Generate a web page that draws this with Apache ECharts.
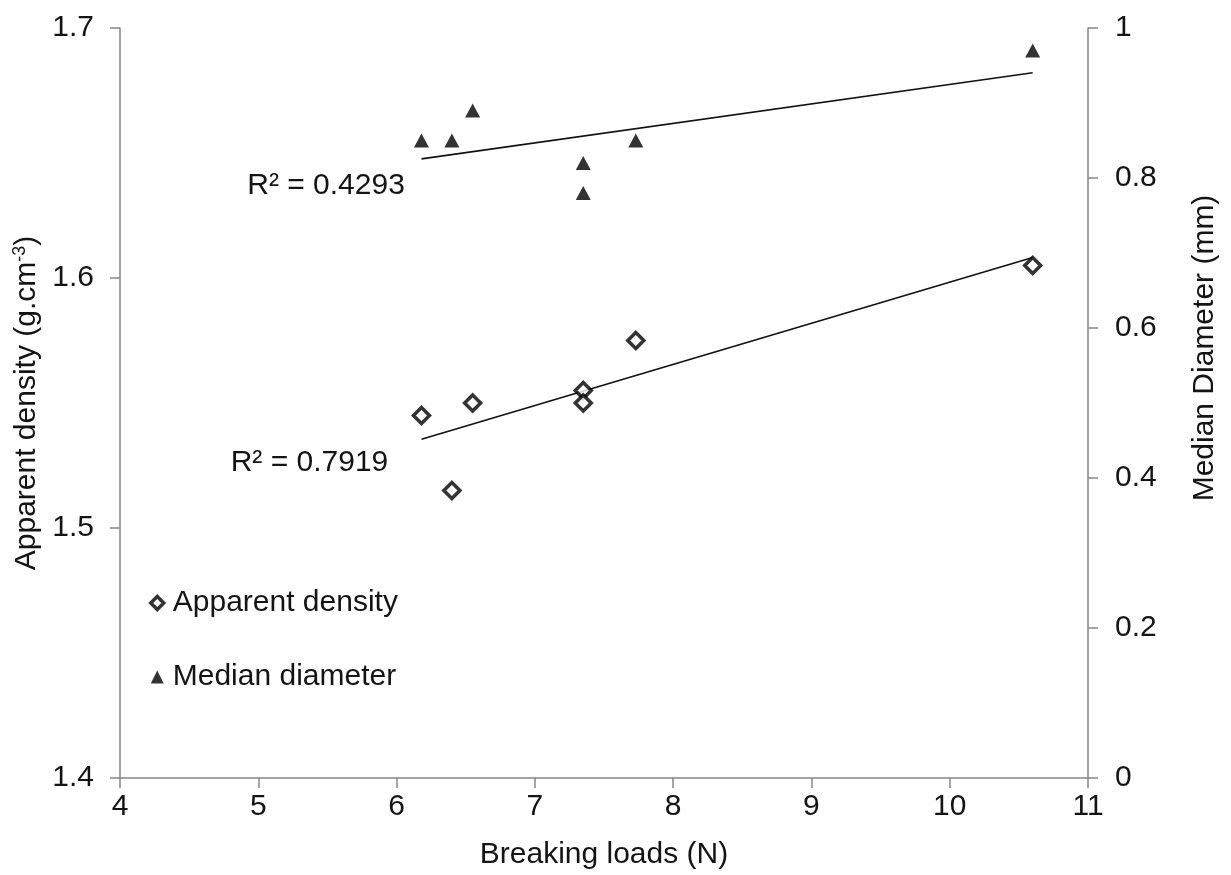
<!DOCTYPE html>
<html lang="en">
<head>
    <meta charset="UTF-8">
    <title>Breaking loads</title>
    <script src="https://cdn.jsdelivr.net/npm/echarts@6/dist/echarts.min.js"></script>
    <style>
        html, body {margin: 0; padding: 0; background: #fff;}
    </style>
</head>
<body>
<div id="main" style="width: 1231px;height:875px"></div>
<script>
    // breaking loads (N), same samples for both measures
    const breakingLoads = [6.18, 6.4, 6.55, 7.35, 7.35, 7.73, 10.6]
    const apparentDensity = [1.545, 1.515, 1.55, 1.555, 1.55, 1.575, 1.605]
    const medianDiameter = [0.85, 0.85, 0.89, 0.82, 0.78, 0.85, 0.97]
    const r2Labels = ['R² = 0.7919', 'R² = 0.4293']
    const r2Pos = [[5.37, 1.526], [5.49, 0.79]]

    // least squares line between min and max x
    function trend(xs, ys) {
        const n = xs.length
        const mx = xs.reduce((a, b) => a + b, 0) / n
        const my = ys.reduce((a, b) => a + b, 0) / n
        let sxy = 0, sxx = 0
        for (let i = 0; i < n; i++) {
            sxy += (xs[i] - mx) * (ys[i] - my)
            sxx += (xs[i] - mx) * (xs[i] - mx)
        }
        const b = sxy / sxx
        const x0 = Math.min(...xs), x1 = Math.max(...xs)
        return [[x0, my + b * (x0 - mx)], [x1, my + b * (x1 - mx)]]
    }

    const pairs = (xs, ys) => xs.map((x, i) => [x, ys[i]])

    const font = 'Liberation Sans, Arial, sans-serif'
    const axisColor = '#868686'
    const textColor = '#141414'

    const myChart = echarts.init(document.getElementById('main'))

    function r2Mark(i) {
        return {
            silent: true,
            symbol: 'circle',
            symbolSize: 1,
            itemStyle: {color: 'rgba(0,0,0,0)'},
            label: {
                show: true,
                formatter: r2Labels[i],
                fontSize: 30,
                fontFamily: font,
                color: textColor,
                position: 'inside'
            },
            data: [{coord: r2Pos[i]}]
        }
    }

    const option = {
        animation: false,
        grid: {left: 120, right: 143, top: 28, bottom: 97, outerBoundsMode: 'none'},
        legend: {
            orient: 'vertical',
            left: 144,
            top: 583,
            itemGap: 44,
            itemWidth: 13,
            itemHeight: 13,
            data: [
                {name: 'Apparent density', icon: 'diamond',
                    itemStyle: {color: '#fff', borderColor: '#000', borderWidth: 3.5}},
                {name: 'Median diameter', icon: 'triangle',
                    itemStyle: {color: '#000', borderWidth: 0}}
            ],
            textStyle: {fontSize: 30, lineHeight: 30, fontFamily: font, color: textColor, padding: [0, 0, 0, 4]}
        },
        xAxis: {
            type: 'value',
            min: 4, max: 11, interval: 1,
            name: 'Breaking loads (N)',
            nameLocation: 'middle',
            nameGap: 62,
            nameTextStyle: {fontSize: 30, fontFamily: font, color: textColor},
            axisLine: {lineStyle: {color: axisColor, width: 1.5}},
            axisTick: {length: 10, lineStyle: {color: axisColor, width: 1.5}},
            axisLabel: {fontSize: 30, fontFamily: font, color: textColor, margin: 14},
            splitLine: {show: false}
        },
        yAxis: [{
            type: 'value',
            min: 1.4, max: 1.7, interval: 0.1,
            position: 'left',
            name: 'Apparent density (g.cm{sup|-3})',
            nameLocation: 'middle',
            nameGap: 69,
            nameTextStyle: {
                fontSize: 30, fontFamily: font, color: textColor,
                rich: {sup: {fontSize: 18, fontFamily: font, color: textColor, verticalAlign: 'top', padding: [0, 0, 12, 0]}}
            },
            axisLine: {show: true, lineStyle: {color: axisColor, width: 1.5}},
            axisTick: {show: true, length: 10, lineStyle: {color: axisColor, width: 1.5}},
            axisLabel: {fontSize: 30, fontFamily: font, color: textColor, margin: 26,
                formatter: v => v.toFixed(1)},
            splitLine: {show: false}
        }, {
            type: 'value',
            min: 0, max: 1, interval: 0.2,
            position: 'right',
            name: 'Median Diameter (mm)',
            nameLocation: 'middle',
            nameGap: 102,
            nameRotate: 90,
            nameTextStyle: {fontSize: 30, fontFamily: font, color: textColor, padding: [0, 0, 0, 110]},
            axisLine: {show: true, lineStyle: {color: axisColor, width: 1.5}},
            axisTick: {show: true, length: 10, lineStyle: {color: axisColor, width: 1.5}},
            axisLabel: {fontSize: 30, fontFamily: font, color: textColor, margin: 27,
                formatter: v => String(Math.round(v * 10) / 10)},
            splitLine: {show: false}
        }],
        series: [
            {
                name: 'Apparent density',
                type: 'scatter',
                yAxisIndex: 0,
                symbol: 'diamond',
                symbolSize: 16,
                itemStyle: {color: '#fff', borderColor: '#000', borderWidth: 3.5},
                data: pairs(breakingLoads, apparentDensity),
                z: 3
            },
            {
                name: 'Median diameter',
                type: 'scatter',
                yAxisIndex: 1,
                symbol: 'triangle',
                symbolSize: [15, 14],
                itemStyle: {color: '#000'},
                data: pairs(breakingLoads, medianDiameter),
                z: 3
            },
            {
                name: 'density trend',
                type: 'line',
                yAxisIndex: 0,
                showSymbol: false,
                symbol: 'none',
                lineStyle: {color: '#111', width: 1.6},
                data: trend(breakingLoads, apparentDensity),
                markPoint: r2Mark(0),
                z: 2
            },
            {
                name: 'diameter trend',
                type: 'line',
                yAxisIndex: 1,
                showSymbol: false,
                symbol: 'none',
                lineStyle: {color: '#111', width: 1.6},
                data: trend(breakingLoads, medianDiameter),
                markPoint: r2Mark(1),
                z: 2
            }
        ]
    }
    myChart.setOption(option)
</script>
</body>
</html>
